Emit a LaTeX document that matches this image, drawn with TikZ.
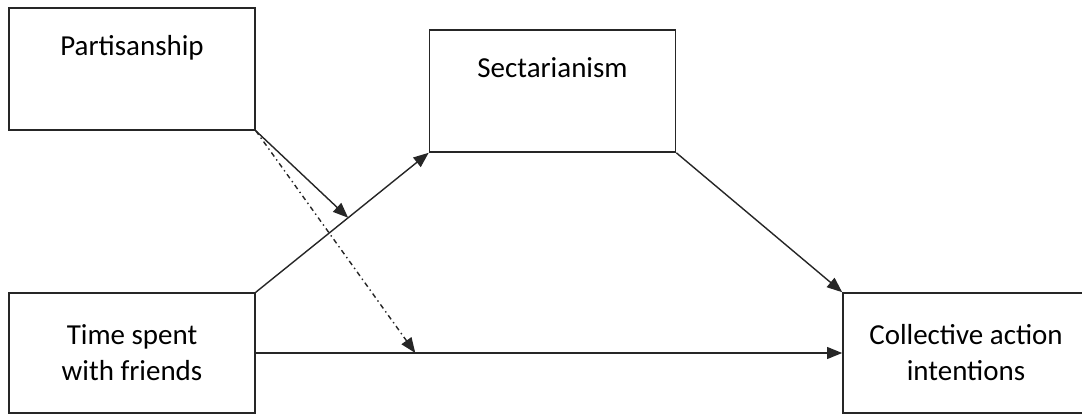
\documentclass[tikz,border=0pt]{standalone}
\usepackage{fontspec}
\setmainfont{Carlito}
\usetikzlibrary{arrows.meta,positioning,calc}
\colorlet{pathLine}{black!85}
\tikzset{
  >=Triangle,
  font=\fontsize{20.6}{25.6}\selectfont,
  % one box per construct of the model
  construct/.style={
    draw=pathLine,
    line width=1.1pt,
    fill=white,
    minimum width=6.15cm,
    minimum height=3.05cm,
    align=center
  },
  toplabel/.style={
    anchor=north,
    yshift=-0.58cm,
    align=center
  },
  arrow/.style={
    -{Triangle[length=3.8mm,width=3mm]},
    line width=1pt,
    draw=pathLine
  },
  dashedarrow/.style={
    -{Triangle[length=3.8mm,width=3mm]},
    line width=1pt,
    draw=pathLine,
    dash pattern=on 3.5pt off 2.5pt on 1pt off 2.5pt
  }
}
\begin{document}
\begin{tikzpicture}[x=0.025cm,y=-0.025cm]

\useasboundingbox (0,0) rectangle (1082,414);

\node[construct, label={[toplabel]north:Partisanship}] (party) at (132,69) {};
\node[construct, label={[toplabel]north:Sectarianism}] (sect) at (552.5,91) {};
\node[construct, minimum height=3.0cm] (time) at (132,353) {Time spent\\with friends};
\node[construct, minimum height=3.0cm] (action) at (966,353) {Collective action\\intentions};

% direct and indirect paths
\draw[arrow] (time.north east) -- coordinate[pos=0.534] (modA) (sect.south west);
\draw[arrow] (sect.south east) -- (action.north west);
\draw[arrow] (time.east) -- coordinate[pos=0.272] (modB) (action.west);

% moderation by partisanship
\draw[arrow] (party.south east) -- (modA);
\draw[dashedarrow] (party.south east) -- (modB);

\end{tikzpicture}
\end{document}
